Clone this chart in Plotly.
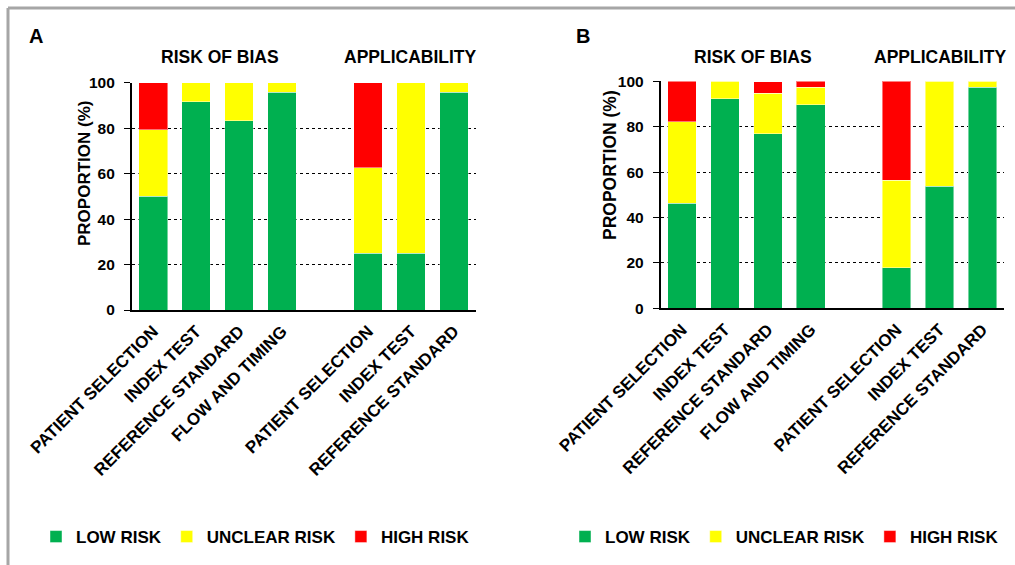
import plotly.graph_objects as go

W, H = 1015, 565

# ---- data ----
positions = [0, 1, 2, 3, 5, 6, 7]
tick_labels = ["PATIENT SELECTION", "INDEX TEST", "REFERENCE STANDARD", "FLOW AND TIMING",
               "PATIENT SELECTION", "INDEX TEST", "REFERENCE STANDARD"]
series_names = ["LOW RISK", "UNCLEAR RISK", "HIGH RISK"]
series_colors = ["#00B050", "#FFFF00", "#FF0000"]

a_low = [50.0, 91.7, 83.3, 95.8, 25.0, 25.0, 95.8]
a_unclear = [29.2, 8.3, 16.7, 4.2, 37.5, 75.0, 4.2]
a_high = [20.8, 0.0, 0.0, 0.0, 37.5, 0.0, 0.0]

b_low = [46.2, 92.3, 76.9, 89.7, 17.9, 53.8, 97.4]
b_unclear = [35.9, 7.7, 17.9, 7.7, 38.5, 46.2, 2.6]
b_high = [17.9, 0.0, 5.1, 2.6, 43.6, 0.0, 0.0]

FONT = "Liberation Sans, Arial, sans-serif"

fig = go.Figure()

panels = [
    ("x", "y", "legend", [a_low, a_unclear, a_high]),
    ("x2", "y2", "legend2", [b_low, b_unclear, b_high]),
]
for xa, ya, leg, vals in panels:
    for name, color, v in zip(series_names, series_colors, vals):
        fig.add_trace(go.Bar(
            x=positions, y=v, name=name, xaxis=xa, yaxis=ya, legend=leg,
            marker=dict(color=color, line=dict(color="rgba(255,255,255,0.45)", width=1)),
            hoverinfo="skip",
        ))

xcommon = dict(
    range=[-0.5, 7.5], tickmode="array", tickvals=positions, ticktext=tick_labels,
    tickangle=-45, showline=True, linecolor="black", linewidth=1.5, showgrid=False,
    ticks="", zeroline=False, automargin=False, ticklabelstandoff=3,
    tickfont=dict(family=FONT, size=17, color="black", weight="bold"),
)
ycommon = dict(
    range=[0, 100], tickmode="array", tickvals=[0, 20, 40, 60, 80, 100],
    showline=True, linecolor="black", linewidth=1.5, ticks="outside", ticklen=6,
    tickcolor="black", showgrid=True, gridcolor="black", griddash="dot", gridwidth=1,
    zeroline=False, automargin=False, ticklabelstandoff=6,
    tickfont=dict(family=FONT, size=15.5, color="black", weight="bold"),
)

legfont = dict(family=FONT, size=17, color="black", weight="bold")
fig.update_layout(
    width=W, height=H,
    margin=dict(l=0, r=0, t=0, b=0, autoexpand=False),
    paper_bgcolor="white", plot_bgcolor="white",
    barmode="stack", bargap=0.333,
    showlegend=True,
    xaxis=dict(domain=[131.7 / W, 475.5 / W], anchor="y", **xcommon),
    yaxis=dict(domain=[1 - 310 / H, 1 - 82.7 / H], anchor="x", **ycommon),
    xaxis2=dict(domain=[660.5 / W, 1004 / W], anchor="y2", **xcommon),
    yaxis2=dict(domain=[1 - 308.3 / H, 1 - 81.3 / H], anchor="x2", **ycommon),
    legend=dict(orientation="h", xref="container", yref="container",
                x=36 / W, y=1 - 537 / H, xanchor="left", yanchor="middle",
                traceorder="normal", font=legfont, itemclick=False, bgcolor="rgba(0,0,0,0)"),
    legend2=dict(orientation="h", xref="container", yref="container",
                 x=565 / W, y=1 - 537 / H, xanchor="left", yanchor="middle",
                 traceorder="normal", font=legfont, itemclick=False, bgcolor="rgba(0,0,0,0)"),
)

annotations = [
    ("A", 36, 36, 20, 0), ("RISK OF BIAS", 220, 57, 17.5, 0), ("APPLICABILITY", 410, 57, 17.5, 0),
    ("B", 583, 36, 20, 0), ("RISK OF BIAS", 753, 57, 17.5, 0), ("APPLICABILITY", 940, 57, 17.5, 0),
    ("PROPORTION (%)", 84, 174, 17, -90), ("PROPORTION (%)", 610, 165, 17.5, -90),
]
for text, px, py, size, ang in annotations:
    fig.add_annotation(text=text, xref="paper", yref="paper", x=px / W, y=1 - py / H,
                       showarrow=False, xanchor="center", yanchor="middle", textangle=ang,
                       font=dict(family=FONT, size=size, color="black", weight="bold"))

# frame lines (top and left border of the figure image)
fig.add_shape(type="line", xref="paper", yref="paper", x0=8 / W, x1=1, y0=1 - 8 / H, y1=1 - 8 / H,
              line=dict(color="#A6A6A6", width=3))
fig.add_shape(type="line", xref="paper", yref="paper", x0=8 / W, x1=8 / W, y0=0, y1=1 - 8 / H,
              line=dict(color="#A6A6A6", width=3))

fig.write_html("out.html", config={"displayModeBar": False},
               post_script="document.body.style.margin='0';")
